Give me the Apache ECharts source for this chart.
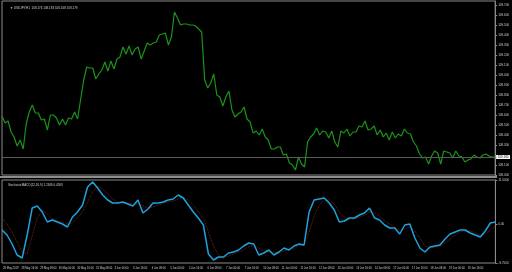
<!DOCTYPE html>
<html><head><meta charset="utf-8">
<script src="https://cdn.jsdelivr.net/npm/echarts@6/dist/echarts.min.js"></script>
<style>html,body{margin:0;padding:0;background:#000;}#c{width:512px;height:272px;}</style>
</head><body><div id="c"></div>
<script>
const symbolTitle = "\u25BC USDJPY,H1  108.176 108.183 108.168 108.179";
const oscTitle = "StochasticMACD(12,26,9) 1.2346 0.4593";
const timeLabels = ["28 May 2019","28 May 16:00","29 May 08:00","30 May 00:00","30 May 16:00","31 May 08:00","3 Jun 00:00","3 Jun 16:00","4 Jun 08:00","5 Jun 00:00","5 Jun 16:00","6 Jun 08:00","7 Jun 00:00","7 Jun 16:00","10 Jun 08:00","11 Jun 00:00","11 Jun 16:00","12 Jun 08:00","13 Jun 00:00","13 Jun 16:00","14 Jun 08:00","17 Jun 00:00","17 Jun 16:00","18 Jun 08:00","19 Jun 00:00","19 Jun 16:00"];
const price = [108.59,108.52,108.54,108.43,108.38,108.29,108.35,108.26,108.51,108.63,
108.70,108.62,108.62,108.55,108.56,108.45,108.60,108.60,108.57,108.50,
108.56,108.50,108.57,108.56,108.63,108.56,108.76,108.95,109.08,109.07,
109.07,108.96,109.01,109.05,109.13,109.04,109.14,109.06,109.16,109.18,
109.28,109.21,109.29,109.20,109.26,109.28,109.16,109.24,109.32,109.30,
109.32,109.33,109.40,109.41,109.42,109.30,109.38,109.63,109.57,109.50,
109.51,109.51,109.50,109.50,109.49,109.46,109.43,108.95,108.87,108.92,
109.01,108.80,108.78,108.69,108.78,108.84,108.65,108.58,108.61,108.63,
108.68,108.56,108.53,108.42,108.44,108.40,108.46,108.38,108.35,108.26,
108.26,108.28,108.28,108.20,108.21,108.12,108.10,108.05,108.18,108.11,
108.08,108.33,108.38,108.41,108.47,108.40,108.44,108.43,108.37,108.44,
108.33,108.28,108.44,108.42,108.46,108.39,108.43,108.43,108.49,108.48,
108.54,108.45,108.46,108.49,108.40,108.45,108.38,108.42,108.35,108.43,
108.37,108.41,108.39,108.46,108.42,108.41,108.33,108.29,108.21,108.17,
108.18,108.11,108.19,108.24,108.22,108.11,108.24,108.23,108.22,108.17,
108.24,108.19,108.18,108.13,108.15,108.16,108.20,108.18,108.17,108.20,
108.21,108.19,108.18,108.18];
const stoch = [-1.5,-2.75,-5,-7.75,-8.5,-2.75,4,4.5,3,0.5,
1,0.5,0,-0.75,1.75,3,4.75,9.25,10.5,9,
7.25,6,5.25,5.25,5.5,5,4.5,6,2.75,3.75,
5.25,5.25,5.5,6,6.25,7.25,6.5,4.75,3,1.5,
-0.25,-7.5,-9,-8.25,-8.25,-7.25,-7,-6.5,-5.5,-4.75,
-5,-7.75,-7.25,-6.5,-7.75,-7,-6,-6.5,-5.5,-5,
-5.25,3,6,6.25,6.5,5.25,3.5,0.5,0.75,1.5,
1.5,2.25,2.75,4,1.5,1,-0.25,-1,-1,-2.5,
-0.25,0,-3.5,-6,-7,-5.75,-5.5,-5.25,-3.75,-2.5,
-2,-1.5,-1.5,-2.25,-2.75,-3.25,-1.75,0.25,0.5];
const signal = [1.5,0,-2,-4.5,-7,-7.5,-3,1.5,3.5,2.5,
1.25,0.75,0.5,0,0.25,1.5,3,5.5,8,9.5,
8.75,7.5,6.25,5.5,5.25,5.25,5,5,4.5,4,
4.25,4.75,5.25,5.5,5.75,6.25,6.75,6,4.75,3,
1.5,-2,-5.5,-7.75,-8.5,-8,-7.5,-7,-6.5,-5.75,
-5.25,-6,-6.75,-7,-7,-7.25,-6.75,-6.25,-6,-5.5,
-5.25,-2,2,4.75,6,6,5,3,1.75,1.25,
1.25,1.75,2.25,3,2.75,2,0.75,0,-0.75,-1.5,
-1.25,-0.75,-1.75,-3.5,-5.5,-6,-5.75,-5.5,-4.75,-3.75,
-2.75,-2,-1.75,-1.75,-2.25,-2.75,-2.5,-1.5,-0.5];
const priceMin = 108.0, priceMax = 109.74, priceStep = 0.1;
const oscMax = 11, oscMin = -9.75;

const lastPrice = price[price.length - 1];
const FONT = 'Liberation Sans';
const chart = echarts.init(document.getElementById('c'), null, {renderer: 'canvas'});
chart.setOption({
  backgroundColor: '#000',
  animation: false,
  title: [
    {text: symbolTitle, left: 5, top: 2, textStyle: {color: '#d0d0d0', fontSize: 3, fontWeight: 'normal', fontFamily: FONT}},
    {text: oscTitle, left: 3, top: 179, textStyle: {color: '#d0d0d0', fontSize: 3, fontWeight: 'normal', fontFamily: FONT}}
  ],
  grid: [
    {left: 2, right: 15, top: 1, height: 174, show: true, borderColor: '#8a8a8a', borderWidth: 1},
    {left: 2, right: 15, top: 180, height: 83, show: true, borderColor: '#8a8a8a', borderWidth: 1},
    {left: 1, width: 466.7, top: 263, height: 1}
  ],
  graphic: [
    {type: 'rect', shape: {x: 0, y: 176.2, width: 497, height: 1.6}, style: {fill: '#bdbdbd'}, silent: true}
  ],
  xAxis: [
    {type: 'category', gridIndex: 0, data: price.map((_, i) => i), boundaryGap: false, show: false},
    {type: 'category', gridIndex: 1, data: stoch.map((_, i) => i), boundaryGap: false, show: false},
    {type: 'category', gridIndex: 2, data: timeLabels, boundaryGap: false, position: 'bottom',
     axisLine: {show: false}, axisTick: {show: false},
     axisLabel: {color: '#cfcfcf', fontSize: 2.7, fontFamily: FONT, align: 'left', interval: 0, margin: 3}}
  ],
  yAxis: [
    {type: 'value', gridIndex: 0, position: 'right', min: priceMin, max: priceMax, interval: priceStep,
     splitLine: {show: false},
     axisLine: {show: true, lineStyle: {color: '#8a8a8a'}},
     axisTick: {show: true, length: 2, lineStyle: {color: '#8a8a8a'}},
     axisLabel: {color: '#d0d0d0', fontSize: 3, fontFamily: FONT, margin: 3, showMaxLabel: false,
       formatter: v => Math.abs(v - lastPrice) < 0.035 ? '' : v.toFixed(3)}},
    {type: 'value', gridIndex: 1, position: 'right', min: oscMin, max: oscMax,
     splitLine: {show: false},
     axisLine: {show: true, lineStyle: {color: '#8a8a8a'}},
     axisTick: {show: true, length: 2, lineStyle: {color: '#8a8a8a'}, customValues: [oscMax, 0, oscMin]},
     axisLabel: {color: '#d0d0d0', fontSize: 3, fontFamily: FONT, margin: 3, customValues: [oscMax, 0, oscMin],
       formatter: v => v === 0 ? '0.00' : v.toFixed(4)}},
    {type: 'value', gridIndex: 2, show: false}
  ],
  series: [
    {type: 'line', name: 'price', xAxisIndex: 0, yAxisIndex: 0, data: price, symbol: 'none',
     lineStyle: {color: '#1b931b', width: 1.2},
     markLine: {silent: true, symbol: 'none', animation: false,
       lineStyle: {color: '#5a5a5a', type: 'solid', width: 1},
       label: {position: 'end', distance: 1, formatter: () => lastPrice.toFixed(3), color: '#000',
         backgroundColor: '#fff', fontSize: 3, fontFamily: FONT, padding: [0.5, 1.5]},
       data: [{yAxis: lastPrice}]}},
    {type: 'line', name: 'signal', xAxisIndex: 1, yAxisIndex: 1, data: signal, symbol: 'none',
     lineStyle: {color: '#8a3020', width: 0.8, type: 'dotted'}, z: 2},
    {type: 'line', name: 'main', xAxisIndex: 1, yAxisIndex: 1, data: stoch, symbol: 'none',
     lineStyle: {color: '#1ea2dc', width: 1.5}, z: 3}
  ]
});
</script></body></html>
